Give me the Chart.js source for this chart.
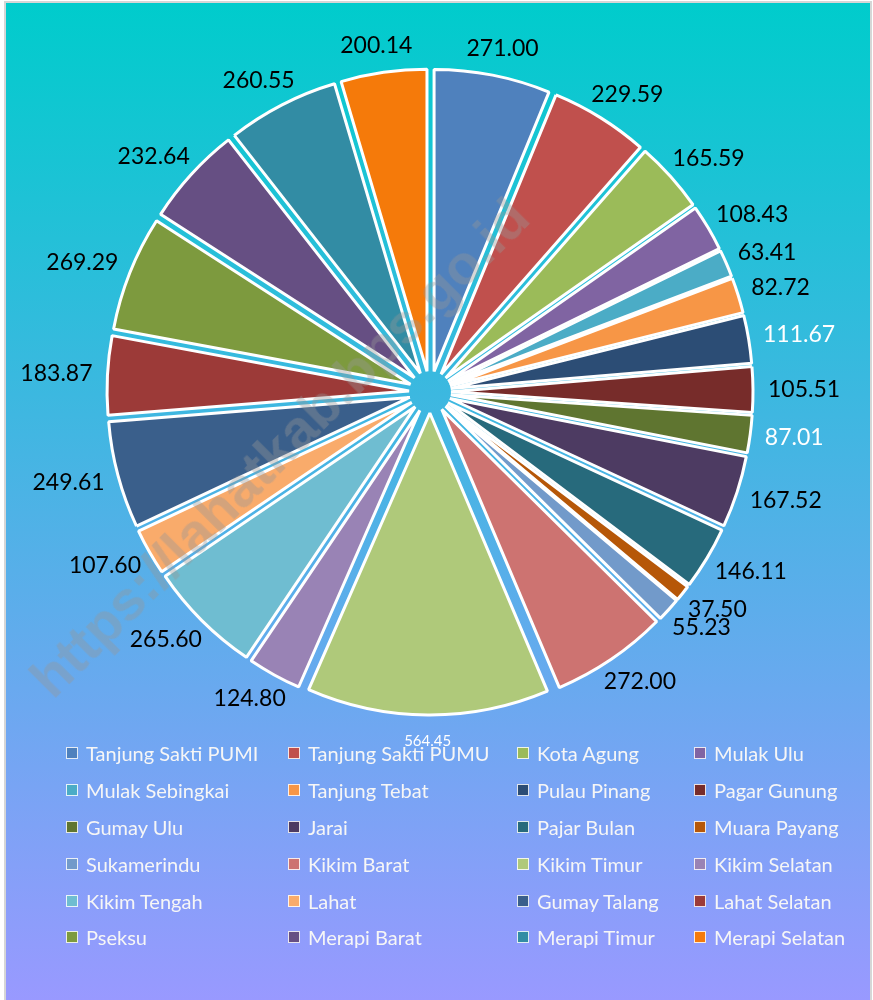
<!DOCTYPE html>
<html lang="id">
<head>
  <meta charset="UTF-8">
  <title>Luas Wilayah per Kecamatan</title>
  <script src="https://cdn.jsdelivr.net/npm/chart.js"></script>
  <style>
    html, body { margin: 0; padding: 0; background: #fff; }
    body { width: 873px; height: 1000px; position: relative; overflow: hidden; font-family: Lato, "Open Sans", sans-serif; }
    .kotak {
      position: absolute; left: 4px; top: 1px; width: 864px; height: 999px;
      border: 2px solid #d6d6d6; border-bottom: none;
      background: linear-gradient(to bottom, #00cccc, #9999ff);
    }
    .kotak canvas { position: absolute; left: 0; top: 0; }
    .legenda {
      position: absolute; left: 60px; top: 732px;
      display: grid; grid-template-columns: 222px 229px 177px 160px; grid-auto-rows: 36.8px;
    }
    .item { display: flex; align-items: center; color: #f6f6f6; font-size: 20px; white-space: nowrap; }
    .item span.box { width: 10px; height: 10px; border: 1px solid rgba(255,255,255,0.85); margin-right: 8px; }
    .watermark {
      position: absolute; left: 279px; top: 447px; transform: translate(-50%, -50%) rotate(-45deg);
      font-family: "Liberation Sans", Arial, sans-serif; font-weight: bold; font-size: 56px;
      color: rgba(150,150,150,0.38); white-space: nowrap; pointer-events: none;
    }
  </style>
</head>
<body>
  <div class="kotak">
    <canvas id="grafikLuas" width="864" height="997"></canvas>
    <div class="legenda" id="legenda"></div>
  </div>
  <div class="watermark">https://lahatkab.bps.go.id</div>

  <script>
    const kecamatan = ["Tanjung Sakti PUMI", "Tanjung Sakti PUMU", "Kota Agung", "Mulak Ulu",
      "Mulak Sebingkai", "Tanjung Tebat", "Pulau Pinang", "Pagar Gunung",
      "Gumay Ulu", "Jarai", "Pajar Bulan", "Muara Payang",
      "Sukamerindu", "Kikim Barat", "Kikim Timur", "Kikim Selatan",
      "Kikim Tengah", "Lahat", "Gumay Talang", "Lahat Selatan",
      "Pseksu", "Merapi Barat", "Merapi Timur", "Merapi Selatan"];
    const luas = [271.00, 229.59, 165.59, 108.43,
      63.41, 82.72, 111.67, 105.51,
      87.01, 167.52, 146.11, 37.50,
      55.23, 272.00, 564.45, 124.80,
      265.60, 107.60, 249.61, 183.87,
      269.29, 232.64, 260.55, 200.14];
    const warna = ["#4f81bd", "#c0504d", "#9bbb59", "#8064a2",
      "#4bacc6", "#f79646", "#2c4d75", "#772c2a",
      "#5f7530", "#4d3b62", "#276a7c", "#b65708",
      "#729aca", "#cd7371", "#afc97a", "#9983b5",
      "#6fbdd1", "#f9ab6b", "#3a5f8b", "#9c3a38",
      "#7d9a3e", "#664f83", "#328ca4", "#f57a0a"];
    // label putih: 111.67, 87.01, 564.45
    const labelPutih = [6, 8, 14];

    const ledak = 21;

    const pecahPie = {
      id: "pecahPie",
      beforeDatasetsDraw(chart) {
        const a = chart.chartArea;
        const cx = (a.left + a.right) / 2, cy = (a.top + a.bottom) / 2;
        chart.getDatasetMeta(0).data.forEach(arc => {
          const mid = (arc.startAngle + arc.endAngle) / 2;
          arc.x = cx + Math.cos(mid) * ledak;
          arc.y = cy + Math.sin(mid) * ledak;
        });
      },
      afterDatasetsDraw(chart) {
        const a = chart.chartArea;
        const cx = (a.left + a.right) / 2, cy = (a.top + a.bottom) / 2;
        const ctx = chart.ctx;
        ctx.save();
        ctx.textAlign = "center";
        ctx.textBaseline = "middle";
        chart.getDatasetMeta(0).data.forEach((arc, i) => {
          const mid = (arc.startAngle + arc.endAngle) / 2;
          const teks = luas[i].toFixed(2);
          ctx.fillStyle = labelPutih.includes(i) ? "#ffffff" : "#000000";
          let x, y;
          if (i === 14) {
            ctx.font = "15px Lato";
            x = cx + Math.cos(mid) * (arc.outerRadius + 47);
            y = cy + Math.sin(mid) * (arc.outerRadius + 47);
          } else {
            ctx.font = "23px Lato";
            const w = ctx.measureText(teks).width;
            const rb = arc.outerRadius + 36;
            x = cx + Math.cos(mid) * (rb + w / 2);
            y = cy + Math.sin(mid) * (rb + 12);
          }
          ctx.fillText(teks, x, y);
        });
        ctx.restore();
      }
    };

    new Chart(document.getElementById("grafikLuas"), {
      type: "pie",
      data: {
        labels: kecamatan,
        datasets: [{
          data: luas,
          backgroundColor: warna,
          borderColor: "#ffffff",
          borderWidth: 3
        }]
      },
      options: {
        responsive: false,
        animation: false,
        radius: 302,
        layout: { padding: { left: 0, right: 16, top: 20, bottom: 239 } },
        plugins: { legend: { display: false }, tooltip: { enabled: false } }
      },
      plugins: [pecahPie]
    });

    const legenda = document.getElementById("legenda");
    kecamatan.forEach((nama, i) => {
      const d = document.createElement("div");
      d.className = "item";
      d.innerHTML = '<span class="box" style="background:' + warna[i] + '"></span>' + nama;
      legenda.appendChild(d);
    });
  </script>
</body>
</html>
